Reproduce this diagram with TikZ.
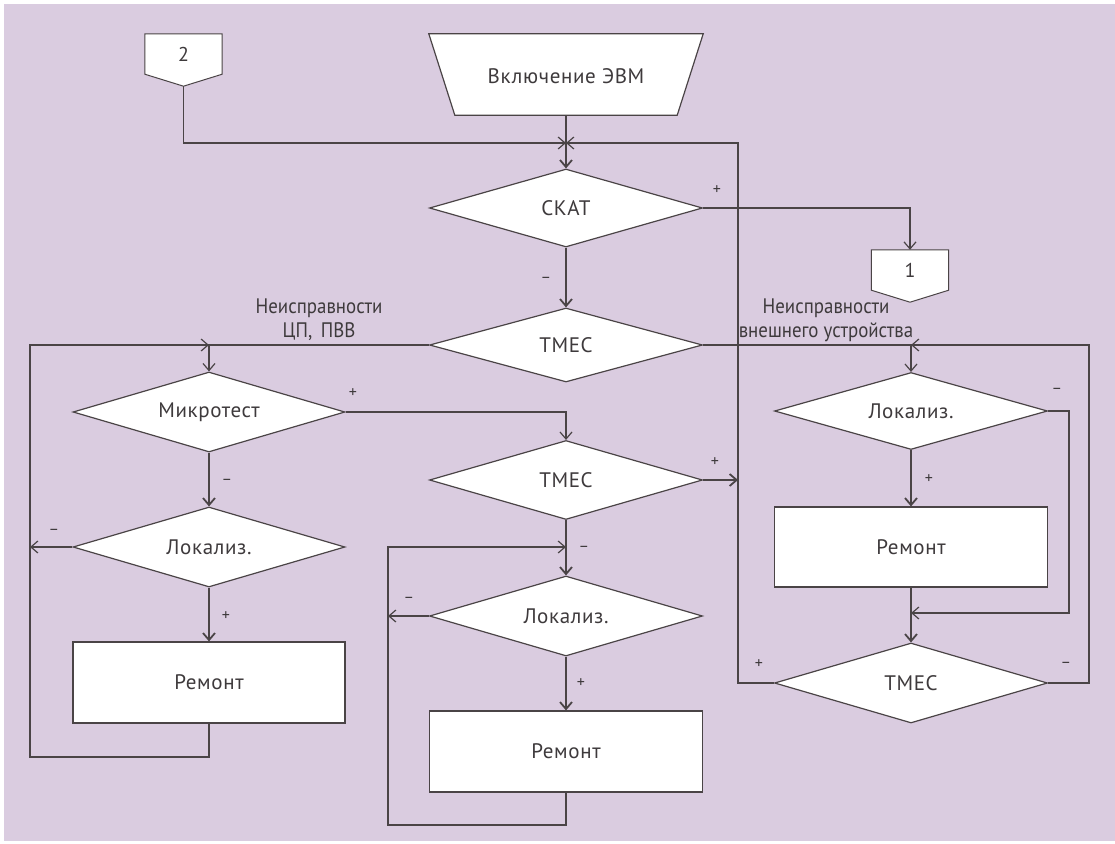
\documentclass[tikz,border=0pt]{standalone}
\usepackage{fontspec}
\setmainfont{PT Sans}
\newfontfamily\nodefont[LetterSpace=3]{PT Sans}
\newfontfamily\lblfont[FakeStretch=0.9]{PT Sans}
\usetikzlibrary{arrows.meta,shapes.geometric}
\definecolor{bgc}{HTML}{DACCE0}
\definecolor{ln}{HTML}{4A4446}
\definecolor{tx}{HTML}{3E3A3C}
\begin{document}
\begin{tikzpicture}[x=1pt,y=-1pt,
  every node/.style={text=tx},
  dia/.style={diamond, aspect=3.5, draw=ln, fill=white, line width=1.2pt, inner sep=0pt,
    minimum width=273pt, minimum height=78pt, font=\nodefont\fontsize{21}{24}\selectfont},
  box/.style={rectangle, draw=ln, fill=white, line width=1.2pt, inner sep=0pt,
    minimum width=273pt, minimum height=81pt, font=\nodefont\fontsize{21}{24}\selectfont},
  conn/.style={line width=1.2pt, draw=ln, -{Straight Barb[length=7pt,width=12pt]}},
  flow/.style={conn, line width=1.8pt},
  sgn/.style={font=\fontsize{16}{16}\selectfont, inner sep=0pt, text=tx},
  lbl/.style={font=\lblfont\fontsize{21}{24}\selectfont, align=center, inner sep=0pt},
  cbox/.style={rectangle, minimum width=77pt, minimum height=40pt, inner sep=0pt},
  ctxt/.style={font=\fontsize{20}{24}\selectfont, inner sep=0pt}
]
\useasboundingbox (0,0) rectangle (1115,843);
\fill[white] (0,0) rectangle (1115,843);
\fill[bgc] (4,4) rectangle (1115,841);

% off-page connectors
\node[cbox] (c2) at (183.5,54) {};
\filldraw[fill=white, draw=ln, line width=1pt] (c2.north west) -- (c2.north east) -- (c2.south east) -- ([yshift=-12pt]c2.south) -- (c2.south west) -- cycle;
\node[ctxt] (c2t) at (c2) {2};
\coordinate (c2tip) at ([yshift=-12pt]c2.south);

\node[cbox] (c1) at (910,270) {};
\filldraw[fill=white, draw=ln, line width=1pt] (c1.north west) -- (c1.north east) -- (c1.south east) -- ([yshift=-12pt]c1.south) -- (c1.south west) -- cycle;
\node[ctxt] (c1t) at (c1) {1};

% start (inverted trapezium)
\node[rectangle, minimum width=274pt, minimum height=81pt, inner sep=0pt] (start) at (566,74.5) {};
\filldraw[fill=white, draw=ln, line width=1.2pt] (start.north west) -- (start.north east) -- ([xshift=-26pt]start.south east) -- ([xshift=26pt]start.south west) -- cycle;
\node[font=\nodefont\fontsize{21}{24}\selectfont, inner sep=0pt] (startt) at ([yshift=-2pt]start.center) {Включение ЭВМ};

% decisions and processes
\node[dia] (skat) at (566,208) {СКАТ};
\node[dia, minimum height=74pt] (tmes1) at (566,345) {ТМЕС};
\node[dia, minimum width=272pt, minimum height=80pt] (mik) at (209,412) {Микротест};
\node[dia, minimum width=272pt, minimum height=80pt] (lok1) at (209,547) {Локализ.};
\node[box, minimum width=272pt] (rem1) at (209,682.5) {Ремонт};
\node[dia, minimum height=79pt] (tmes2) at (566,480) {ТМЕС};
\node[dia, minimum height=80pt] (lok2) at (566,616) {Локализ.};
\node[box] (rem2) at (566,751.5) {Ремонт};
\node[dia, minimum height=77pt] (lok3) at (911,411) {Локализ.};
\node[box, minimum height=80pt] (rem3) at (911,547) {Ремонт};
\node[dia, minimum height=80pt] (tmes3) at (911,683) {ТМЕС};

% labels
\node[lbl] (f1) at (319,320) {Неисправности\\ЦП,\, ПВВ};
\node[lbl] (f2) at (826,320) {Неисправности\\внешнего устройства};

% helper coordinates
\coordinate (j1) at (566,143);
\coordinate (rx) at (738,143);
\coordinate (lxb) at (30,757);
\coordinate (lxt) at (30,345);
\coordinate (mb) at (388,825);
\coordinate (mt) at (388,547);
\coordinate (rxb) at (1089,683);
\coordinate (rxt) at (1089,345);
\coordinate (r2t) at (1069,411);
\coordinate (r2b) at (1069,613);

% connectors
\draw[flow] (start.south) -- (skat.north);
\draw[conn] (c2tip) |- (j1);
\draw[conn] (tmes3.west) -| (rx) -- (j1);
\draw[conn] (skat.east) -| (c1.north);
\draw[flow] (skat.south) -- (tmes1.north);
\draw[conn] (tmes1.west) -| (mik.north);
\draw[conn] (rem1.south) |- (lxb) -- (lxt) -- (mik.north |- lxt);
\draw[flow] (mik.south) -- (lok1.north);
\draw[conn] (lok1.west) -- (lxb |- lok1.west);
\draw[flow] (lok1.south) -- (rem1.north);
\draw[conn] (mik.east) -| (tmes2.north);
\draw[flow] (tmes2.east) -- (rx |- tmes2.east);
\draw[flow] (tmes2.south) -- (lok2.north);
\draw[conn] (lok2.west) -- (mb |- lok2.west);
\draw[flow] (lok2.south) -- (rem2.north);
\draw[conn] (rem2.south) |- (mb) -- (mt) -- (tmes2.south |- mt);
\draw[conn] (tmes1.east) -| (lok3.north);
\draw[conn] (tmes3.east) -- (rxb) -- (rxt) -- (lok3.north |- rxt);
\draw[conn] (lok3.east) -- (r2t) -- (r2b) -- (lok3.south |- r2b);
\draw[flow] (lok3.south) -- (rem3.north);
\draw[flow] (rem3.south) -- (tmes3.north);

% signs
\node[sgn] (s1) at (717,190) {+};
\node[sgn] (s2) at (546,280) {–};
\node[sgn] (s3) at (353,393) {+};
\node[sgn] (s4) at (227,482) {–};
\node[sgn] (s5) at (54,532) {–};
\node[sgn] (s6) at (226,616) {+};
\node[sgn] (s7) at (715,462) {+};
\node[sgn] (s8) at (584,549) {–};
\node[sgn] (s9) at (409,600) {–};
\node[sgn] (s10) at (581,683) {+};
\node[sgn] (s11) at (1057,391) {–};
\node[sgn] (s12) at (929,479) {+};
\node[sgn] (s13) at (759,664) {+};
\node[sgn] (s14) at (1066,665) {–};
\end{tikzpicture}
\end{document}
